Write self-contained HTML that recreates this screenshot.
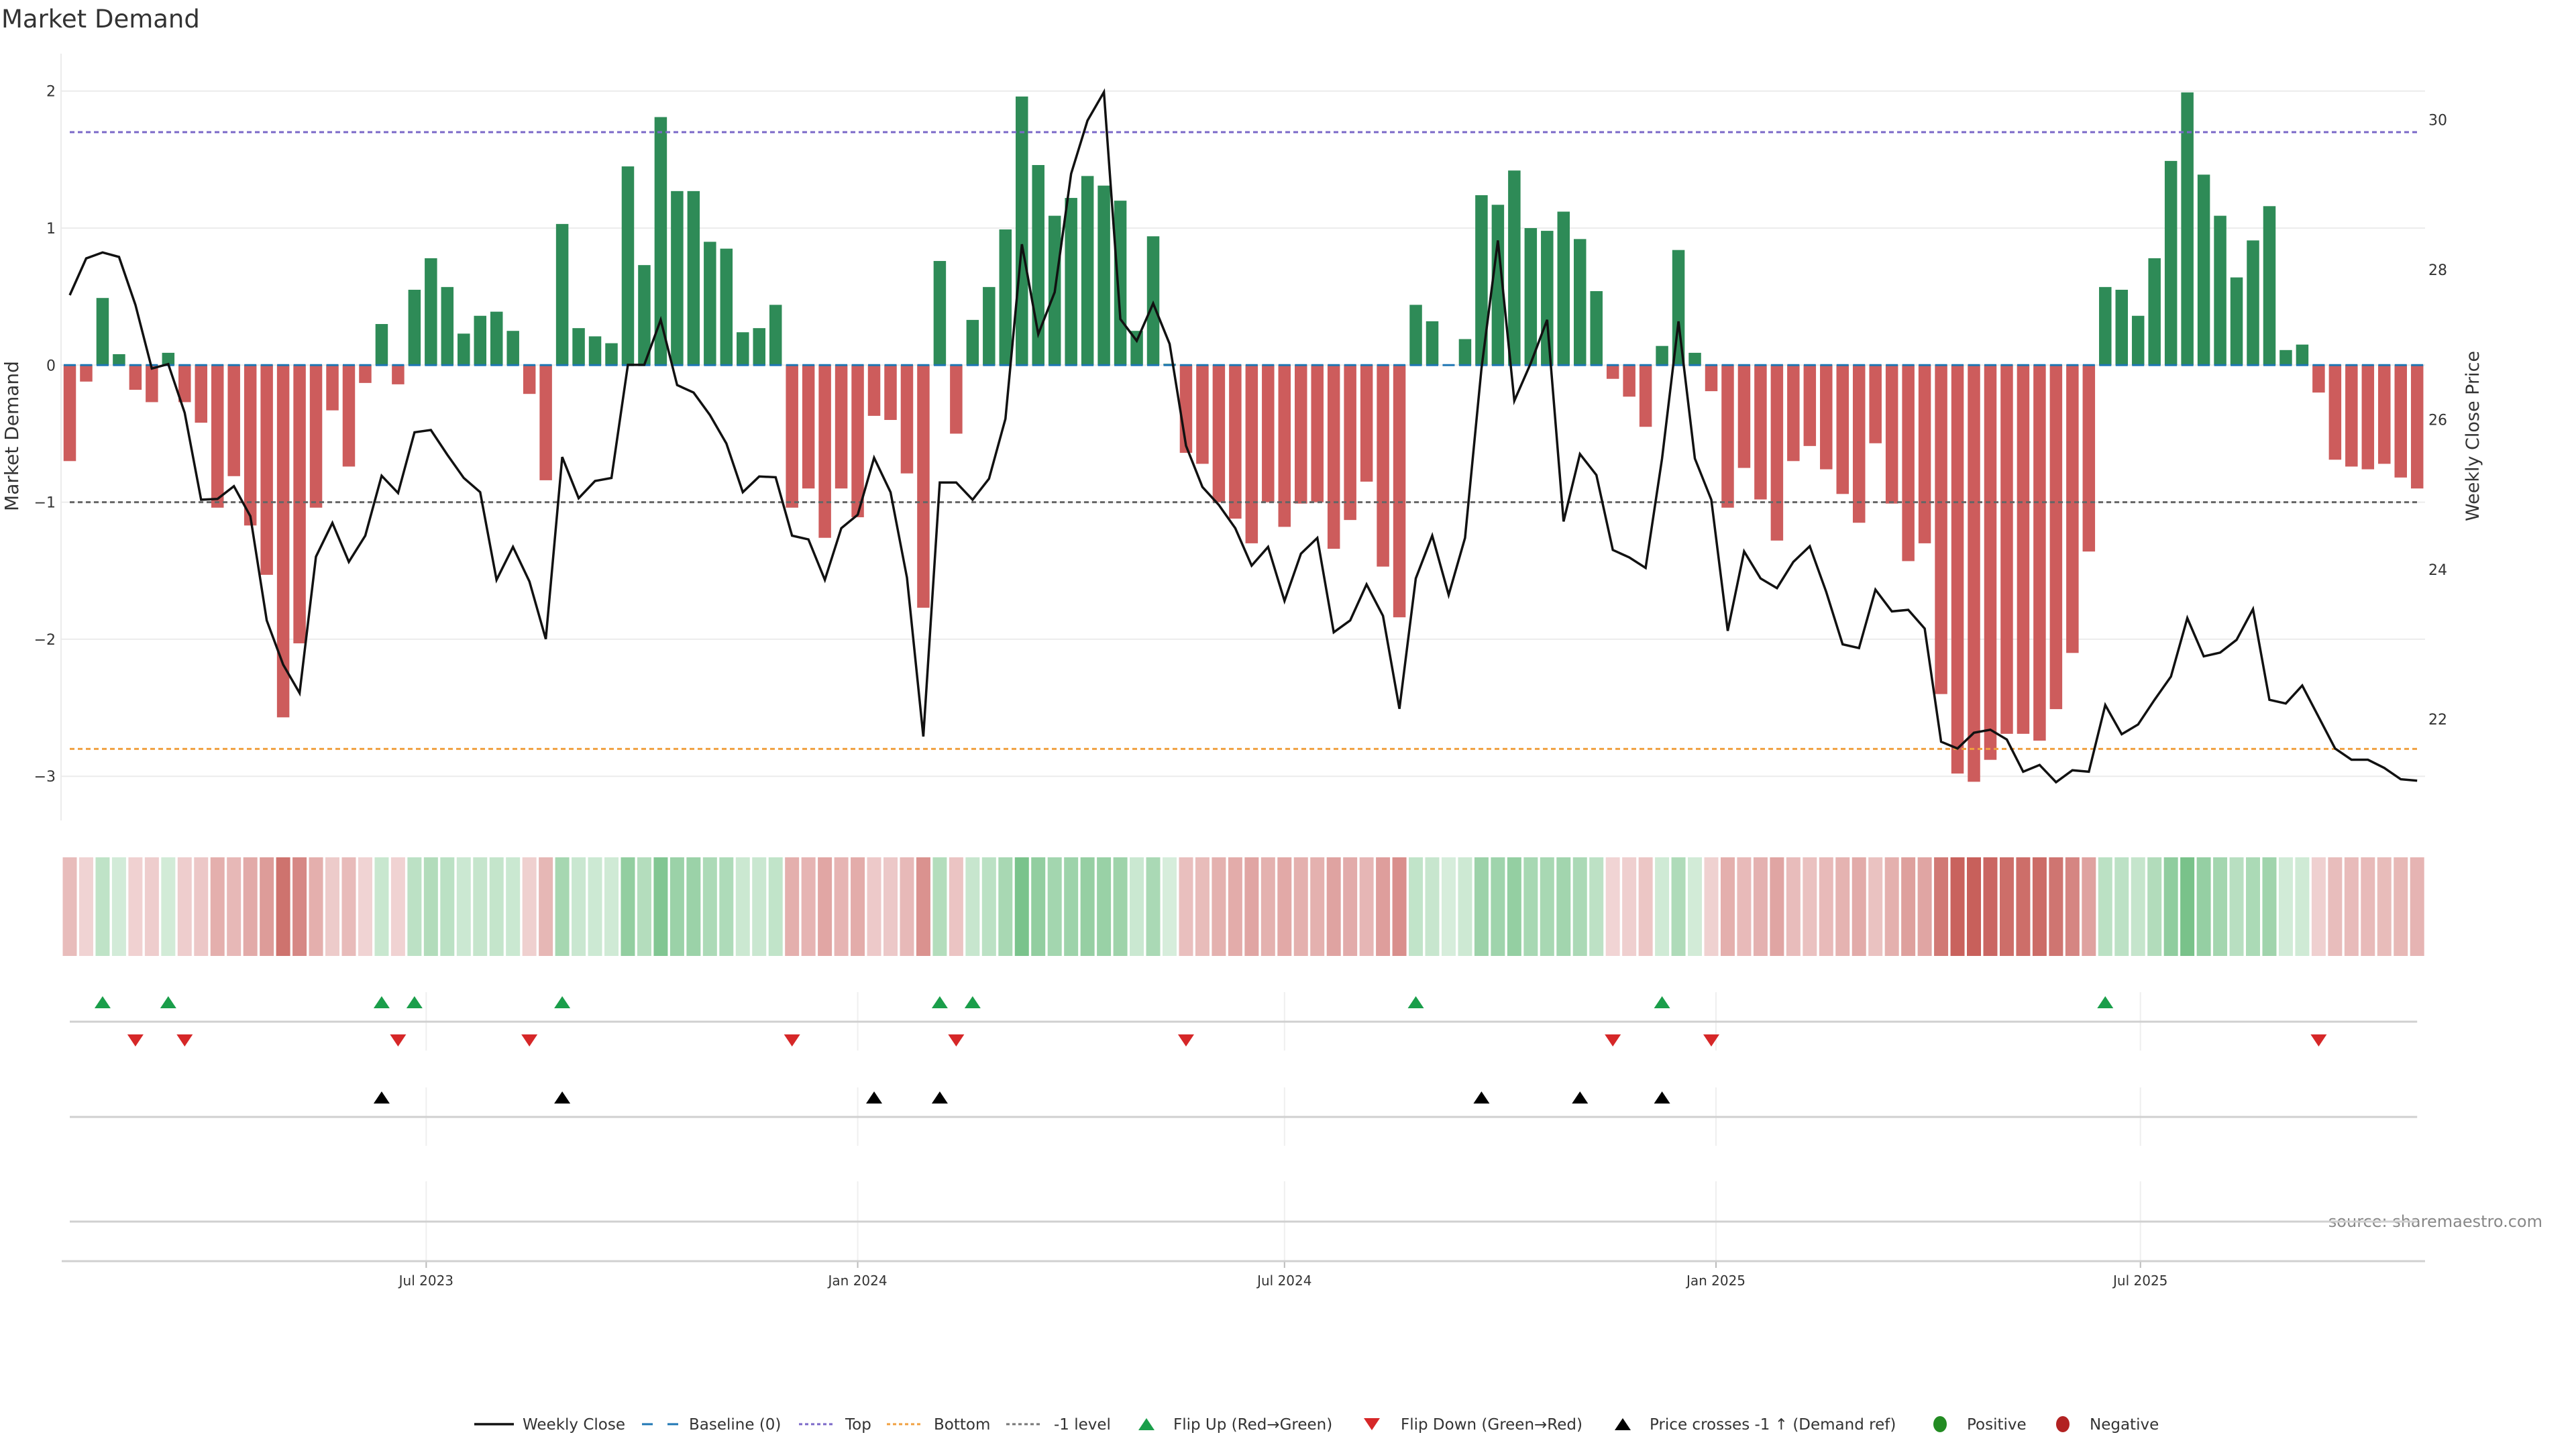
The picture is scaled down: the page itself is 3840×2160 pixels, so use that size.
<!DOCTYPE html>
<html><head><meta charset="utf-8"><title>Market Demand</title>
<style>
html,body{margin:0;padding:0;background:#fff;}
svg{display:block;font-family:"DejaVu Sans","Liberation Sans",sans-serif;}
</style></head>
<body>
<svg id="chart" xmlns="http://www.w3.org/2000/svg" width="3840" height="2160" viewBox="0 0 3840 2160">
<rect x="0" y="0" width="3840" height="2160" fill="#fff"/>
<text x="2" y="41" font-size="37" fill="#333">Market Demand</text>
<text transform="translate(27,650) rotate(-90)" text-anchor="middle" font-size="28" fill="#333">Market Demand</text>
<text transform="translate(3695,650) rotate(-90)" text-anchor="middle" font-size="27" fill="#333">Weekly Close Price</text>
<text x="3790" y="1829" text-anchor="end" font-size="24" fill="#888">source: sharemaestro.com</text>
<g id="g-main"></g>
<g id="g-strip"></g>
<g id="g-markers"></g>
<g id="g-legend"></g>
</svg>
<script>
const demand = [
-0.70,-0.12,0.49,0.08,-0.18,-0.27,0.09,-0.27,-0.42,-1.04,
-0.81,-1.17,-1.53,-2.57,-2.03,-1.04,-0.33,-0.74,-0.13,0.30,
-0.14,0.55,0.78,0.57,0.23,0.36,0.39,0.25,-0.21,-0.84,
1.03,0.27,0.21,0.16,1.45,0.73,1.81,1.27,1.27,0.90,
0.85,0.24,0.27,0.44,-1.04,-0.90,-1.26,-0.90,-1.11,-0.37,
-0.40,-0.79,-1.77,0.76,-0.50,0.33,0.57,0.99,1.96,1.46,
1.09,1.22,1.38,1.31,1.20,0.25,0.94,0.01,-0.64,-0.72,
-1.00,-1.12,-1.30,-1.00,-1.18,-1.01,-1.00,-1.34,-1.13,-0.85,
-1.47,-1.84,0.44,0.32,0.00,0.19,1.24,1.17,1.42,1.00,
0.98,1.12,0.92,0.54,-0.10,-0.23,-0.45,0.14,0.84,0.09,
-0.19,-1.04,-0.75,-0.98,-1.28,-0.70,-0.59,-0.76,-0.94,-1.15,
-0.57,-1.01,-1.43,-1.30,-2.40,-2.98,-3.04,-2.88,-2.69,-2.69,
-2.74,-2.51,-2.10,-1.36,0.57,0.55,0.36,0.78,1.49,1.99,
1.39,1.09,0.64,0.91,1.16,0.11,0.15,-0.20,-0.69,-0.74,
-0.76,-0.72,-0.82,-0.90
];
const price = [
27.66,28.15,28.23,28.17,27.53,26.68,26.74,26.09,24.93,24.94,
25.11,24.71,23.32,22.73,22.35,24.17,24.62,24.10,24.45,25.25,
25.02,25.83,25.86,25.53,25.22,25.03,23.86,24.30,23.84,23.07,
25.50,24.95,25.18,25.22,26.73,26.73,27.33,26.46,26.36,26.06,
25.68,25.03,25.24,25.23,24.45,24.40,23.86,24.55,24.73,25.49,
25.03,23.89,21.77,25.16,25.16,24.93,25.21,26.01,28.34,27.14,
27.70,29.28,29.99,30.37,27.34,27.05,27.55,27.01,25.65,25.10,
24.86,24.55,24.05,24.30,23.58,24.21,24.42,23.16,23.32,23.80,
23.38,22.14,23.88,24.45,23.66,24.42,26.68,28.39,26.25,26.75,
27.33,24.64,25.54,25.26,24.26,24.16,24.02,25.48,27.31,25.48,
24.93,23.18,24.24,23.88,23.75,24.10,24.31,23.70,23.00,22.95,
23.73,23.44,23.46,23.21,21.70,21.61,21.82,21.86,21.73,21.30,
21.39,21.16,21.32,21.30,22.19,21.80,21.93,22.26,22.57,23.35,
22.84,22.89,23.06,23.47,22.26,22.21,22.45,22.03,21.61,21.46,
21.46,21.35,21.20,21.18
];
const leftTicks = [-3,-2,-1,0,1,2];
const rightTicks = [22,24,26,28,30];
const dateTicks = ["2023-07-01","2024-01-01","2024-07-01","2025-01-01","2025-07-01"];
const dateTickLabels = ["Jul 2023","Jan 2024","Jul 2024","Jan 2025","Jul 2025"];
const startDate = "2023-01-30";
const topLevel = 1.70;
const bottomLevel = -2.80;
const refLevel = -1;

const NS = "http://www.w3.org/2000/svg";
function mk(parent, tag, attrs){ const e=document.createElementNS(NS,tag); for(const k in attrs) e.setAttribute(k,attrs[k]); parent.appendChild(e); return e; }

const X0 = 104, STEP = 24.47;
const t0 = Date.parse(startDate+"T00:00:00Z");
function xDate(s){ return X0 + (Date.parse(s+"T00:00:00Z")-t0)/(7*86400000)*STEP; }
function xIdx(i){ return X0 + i*STEP; }
function yL(v){ return 544.3 - 204.3*v; }
function yR(p){ return 178.6 + (30-p)*111.7; }
function pFromY(y){ return 30 - (y-178.6)/111.7; }

const gMain = document.getElementById('g-main');
leftTicks.forEach(v=>{
  const l = mk(gMain,'line',{x1:92,x2:3615,y1:yL(v),y2:yL(v),stroke:'#ececec','stroke-width':2});
  
  
  const t = mk(gMain,'text',{x:83,y:yL(v)+8,'text-anchor':'end','font-size':22,fill:'#333'});
  t.textContent = (v<0?'\u2212'+Math.abs(v):String(v));
  
  
});
rightTicks.forEach(p=>{
  const t = mk(gMain,'text',{x:3620,y:yR(p)+8,'font-size':22,fill:'#333'});
  t.textContent = String(p);
  
  
});
const spine = mk(gMain,'line',{x1:91,x2:91,y1:80,y2:1223,stroke:'#ebebeb','stroke-width':2});



const BW = 18.5;
demand.forEach((v,i)=>{
  if(v===0) return;
  const y0=yL(0), y1=yL(v);
  const r = mk(gMain,'rect',{x:xIdx(i)-BW/2,y:Math.min(y0,y1),width:BW,height:Math.abs(y1-y0),fill:v>0?'#2e8b57':'#cd5c5c'});
  
  
});
const xl = xIdx(0), xr = xIdx(demand.length-1);
const base = mk(gMain,'line',{x1:xl-9,x2:xr+9,y1:yL(0),y2:yL(0),stroke:'#1f77b4','stroke-width':3,'stroke-dasharray':'18 6.47'});


const topL = mk(gMain,'line',{x1:xl,x2:xr,y1:yL(topLevel),y2:yL(topLevel),stroke:'#7b68c8','stroke-width':3,'stroke-dasharray':'7 5'});


const botL = mk(gMain,'line',{x1:xl,x2:xr,y1:yL(bottomLevel),y2:yL(bottomLevel),stroke:'#f0a040','stroke-width':3,'stroke-dasharray':'7 5'});


const refL = mk(gMain,'line',{x1:xl,x2:xr,y1:yL(refLevel),y2:yL(refLevel),stroke:'#666','stroke-width':3,'stroke-dasharray':'7 5'});


const pts = price.map((p,i)=>xIdx(i).toFixed(1)+','+yR(p).toFixed(1)).join(' ');
const pl = mk(gMain,'polyline',{points:pts,fill:'none',stroke:'#111','stroke-width':3.5,'stroke-linejoin':'miter'});



const gStrip = document.getElementById('g-strip');
const maxAbs = Math.max(...demand.map(Math.abs));
function lerp(a,b,t){ return Math.round(a+(b-a)*t); }
demand.forEach((v,i)=>{
  const t = Math.min(1,Math.abs(v)/maxAbs);
  let c;
  if(v>=0) c=`rgb(${lerp(214,72,t)},${lerp(237,172,t)},${lerp(219,96,t)})`;
  else c=`rgb(${lerp(242,200,t)},${lerp(216,96,t)},${lerp(216,91,t)})`;
  const r = mk(gStrip,'rect',{x:xIdx(i)-10.5,y:1278,width:21,height:147,fill:c});
  
  
});

const gM = document.getElementById('g-markers');
dateTicks.forEach((d,k)=>{
  const x = xDate(d);
  [[1479,1566],[1621,1708],[1761,1880]].forEach(s=>{
    const g = mk(gM,'line',{x1:x,x2:x,y1:s[0],y2:s[1],stroke:'#efefef','stroke-width':2});
    
    
  });
  const tk = mk(gM,'line',{x1:x,x2:x,y1:1880,y2:1890,stroke:'#bbb','stroke-width':2});
  
  
  const t = mk(gM,'text',{x:x,y:1916,'text-anchor':'middle','font-size':20,fill:'#333'});
  t.textContent = dateTickLabels[k];
  
  
});
[[1523,xl,xr],[1665,xl,xr],[1821,xl,xr],[1880,92,3615]].forEach(h=>{
  const l = mk(gM,'line',{x1:h[1],x2:h[2],y1:h[0],y2:h[0],stroke:'#d0d0d0','stroke-width':3});
  
  
});
function tri(parent,x,y,up,color,name){
  const w=12,h=9;
  const p = up ? `${x-w},${y+h} ${x+w},${y+h} ${x},${y-h}` : `${x-w},${y-h} ${x+w},${y-h} ${x},${y+h}`;
  const e = mk(parent,'polygon',{points:p,fill:color});
  
  
  return e;
}
const refPrice = pFromY(yL(refLevel));
for(let i=1;i<demand.length;i++){
  if(demand[i]>0 && demand[i-1]<0) tri(gM,xIdx(i),1494,true,'#1a9e4a','flip-up-marker');
  if(demand[i]<0 && demand[i-1]>0) tri(gM,xIdx(i),1551,false,'#d62728','flip-down-marker');
  if(price[i]>refPrice && price[i-1]<=refPrice) tri(gM,xIdx(i),1636,true,'#000','price-cross-marker');
}

const gL = document.getElementById('g-legend');
const LY = 2123;
function ltext(x,s){ const t=mk(gL,'text',{x:x,y:LY+8,'font-size':23,fill:'#333'}); t.textContent=s;   }
let e;
e=mk(gL,'line',{x1:707,x2:766,y1:LY,y2:LY,stroke:'#111','stroke-width':3.5});  
ltext(779,'Weekly Close');
e=mk(gL,'line',{x1:957,x2:1011,y1:LY,y2:LY,stroke:'#1f77b4','stroke-width':3,'stroke-dasharray':'16 22'});  
ltext(1027,'Baseline (0)');
e=mk(gL,'line',{x1:1191,x2:1243,y1:LY,y2:LY,stroke:'#7b68c8','stroke-width':3,'stroke-dasharray':'5 4'});  
ltext(1260,'Top');
e=mk(gL,'line',{x1:1322,x2:1376,y1:LY,y2:LY,stroke:'#f0a040','stroke-width':3,'stroke-dasharray':'5 4'});  
ltext(1392,'Bottom');
e=mk(gL,'line',{x1:1500,x2:1554,y1:LY,y2:LY,stroke:'#777','stroke-width':3,'stroke-dasharray':'5 4'});  
ltext(1571,'-1 level');
tri(gL,1709,LY,true,'#1a9e4a','legend-flip-up');
ltext(1749,'Flip Up (Red\u2192Green)');
tri(gL,2045,LY,false,'#d62728','legend-flip-down');
ltext(2088,'Flip Down (Green\u2192Red)');
tri(gL,2419,LY,true,'#000','legend-price-cross');
ltext(2459,'Price crosses -1 \u2191 (Demand ref)');
e=mk(gL,'ellipse',{cx:2892,cy:LY,rx:10,ry:12,fill:'#228b22'});  
ltext(2932,'Positive');
e=mk(gL,'ellipse',{cx:3075,cy:LY,rx:10,ry:12,fill:'#b22222'});  
ltext(3115,'Negative');
</script>
</body></html>
